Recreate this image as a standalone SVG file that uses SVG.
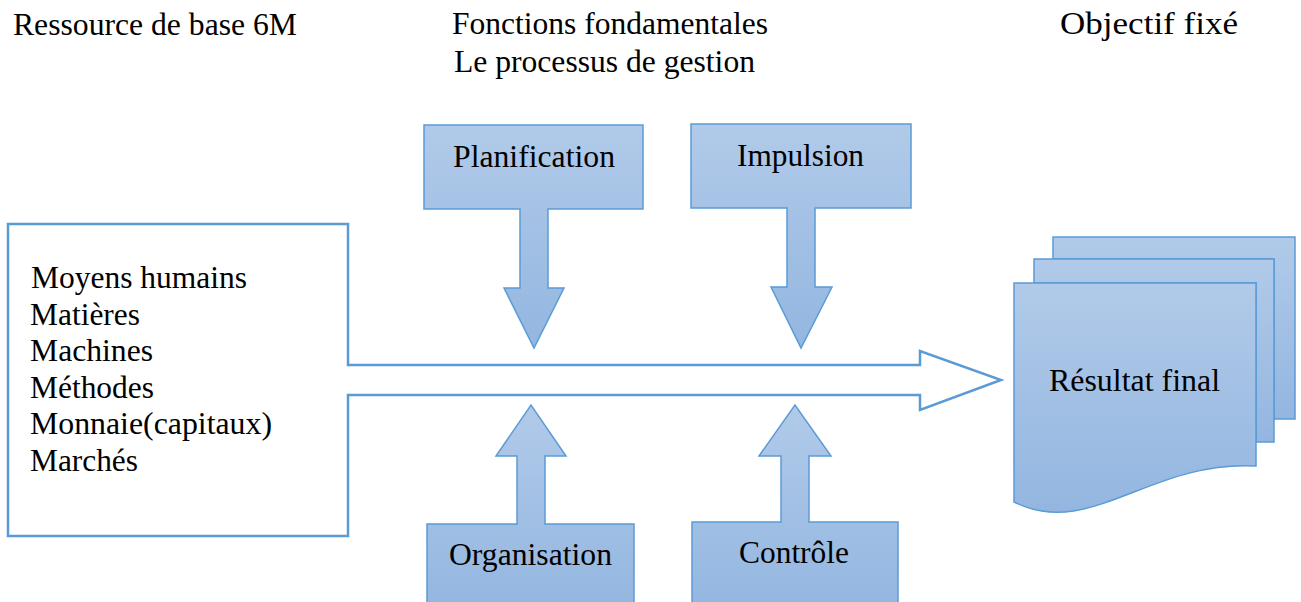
<svg xmlns="http://www.w3.org/2000/svg" width="1301" height="602" viewBox="0 0 1301 602">
  <defs>
    <linearGradient id="fillBlue" x1="0" y1="0" x2="0" y2="1">
      <stop offset="0" stop-color="#b1cae9"/>
      <stop offset="1" stop-color="#93b6e0"/>
    </linearGradient>
    <style>
      .shape { fill: url(#fillBlue); stroke: #5b9bd5; stroke-width: 1.5; }
      .flow { fill: #ffffff; stroke: #5b9bd5; stroke-width: 2.5; }
    </style>
  </defs>

  <g font-family="Liberation Serif, Times New Roman, serif" font-size="31" fill="#000000">
    <!-- Column headings -->
    <g id="headings">
      <text x="13" y="35" textLength="284" lengthAdjust="spacingAndGlyphs">Ressource de base 6M</text>
      <text x="452" y="34" textLength="316" lengthAdjust="spacingAndGlyphs">Fonctions fondamentales</text>
      <text x="454" y="72" textLength="301" lengthAdjust="spacingAndGlyphs">Le processus de gestion</text>
      <text x="1060" y="34" textLength="178" lengthAdjust="spacingAndGlyphs">Objectif fixé</text>
    </g>

    <!-- Main flow: resources box extended into a hollow arrow -->
    <g id="connectors">
      <path class="flow" d="M8,224 H348 V365 H920 V351 L1001,380 L920,410 V395 H348 V536 H8 Z"/>
    </g>

    <g id="ressources">
      <text x="31" y="288" textLength="216" lengthAdjust="spacingAndGlyphs">Moyens humains</text>
      <text x="30" y="325" textLength="110" lengthAdjust="spacingAndGlyphs">Matières</text>
      <text x="30" y="361" textLength="123" lengthAdjust="spacingAndGlyphs">Machines</text>
      <text x="30" y="398" textLength="124" lengthAdjust="spacingAndGlyphs">Méthodes</text>
      <text x="30" y="434" textLength="242" lengthAdjust="spacingAndGlyphs">Monnaie(capitaux)</text>
      <text x="30" y="471" textLength="108" lengthAdjust="spacingAndGlyphs">Marchés</text>
    </g>

    <!-- Management functions: callout boxes with arrows -->
    <g id="planification">
      <path class="shape" d="M424,125 H643 V209 H548 V288 H564 L534,348 L504,288 H520 V209 H424 Z"/>
      <text x="453" y="167" textLength="162" lengthAdjust="spacingAndGlyphs">Planification</text>
    </g>

    <g id="impulsion">
      <path class="shape" d="M691,124 H911 V208 H815 V287 H832 L801,348 L771,287 H787 V208 H691 Z"/>
      <text x="737" y="166" textLength="127" lengthAdjust="spacingAndGlyphs">Impulsion</text>
    </g>

    <g id="organisation">
      <path class="shape" d="M427,612 V524 H517 V456 H496 L531,405 L566,456 H545 V524 H634 V612 Z"/>
      <text x="449" y="565" textLength="163" lengthAdjust="spacingAndGlyphs">Organisation</text>
    </g>

    <g id="controle">
      <path class="shape" d="M692,612 V522 H781 V456 H759 L795,405 L831,456 H809 V522 H898 V612 Z"/>
      <text x="739" y="563" textLength="110" lengthAdjust="spacingAndGlyphs">Contrôle</text>
    </g>

    <!-- Final result: stacked documents -->
    <g id="resultat">
      <path class="shape" d="M1053,237 H1295 V419 H1274 V259 H1053 Z"/>
      <path class="shape" d="M1034,259 H1274 V442 H1256 V283 H1034 Z"/>
      <path class="shape" d="M1014,283 H1256 V466 C1150,460 1090,540 1014,502 Z"/>
      <text x="1049" y="391" textLength="171" lengthAdjust="spacingAndGlyphs">Résultat final</text>
    </g>
  </g>
</svg>
